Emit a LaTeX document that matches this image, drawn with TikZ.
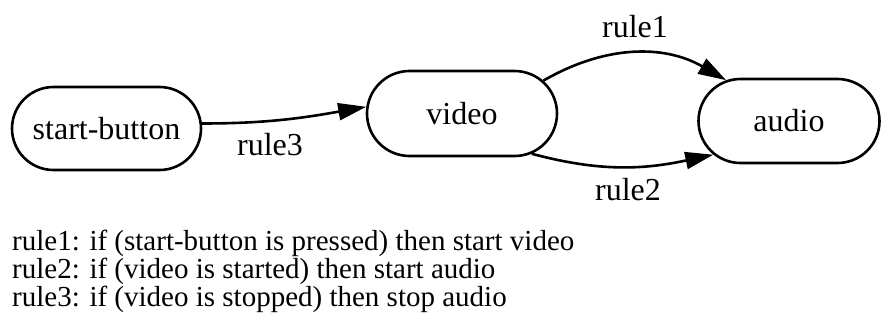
\documentclass[tikz,border=0pt]{standalone}
\usepackage{fontspec}
\setmainfont{Liberation Serif}
\usetikzlibrary{shapes.misc,arrows.meta}
\begin{document}
\begin{tikzpicture}[x=1pt,y=-1pt,
  every node/.style={inner sep=0pt},
  big/.style={font=\fontsize{32}{32}\selectfont},
  state/.style={rounded rectangle, draw, line width=2.6pt, big},
  conn/.style={line width=2.6pt, -{Triangle[length=28pt,width=17pt]}},
  lbl/.style={anchor=center, big},
  rule/.style={anchor=base west, font=\fontsize{29}{28}\selectfont}]
\useasboundingbox (0,0) rectangle (882,323);
\node[state, minimum width=189pt, minimum height=83pt] (sb) at (106.5,128.5) {start-button};
\node[state, minimum width=190pt, minimum height=85pt] (v) at (462,113.5) {video};
\node[state, minimum width=181pt, minimum height=84pt] (a) at (789,121) {audio};
\draw[conn] (sb.3) to[out=0,in=190] (v.176);
\draw[conn] (v.22) to[out=30,in=150] (a.147);
\draw[conn] (v.-30) to[out=-15,in=192] (a.204);
\node[lbl] (l3) at (270,145) {rule3};
\node[lbl] (l1) at (635,27) {rule1};
\node[lbl] (l2) at (628,190) {rule2};
\node[rule] (r1) at (12,250) {rule1: if (start-button is pressed) then start video};
\node[rule] (r2) at (12,278) {rule2: if (video is started) then start audio};
\node[rule] (r3) at (12,306) {rule3: if (video is stopped) then stop audio};
\end{tikzpicture}
\end{document}
